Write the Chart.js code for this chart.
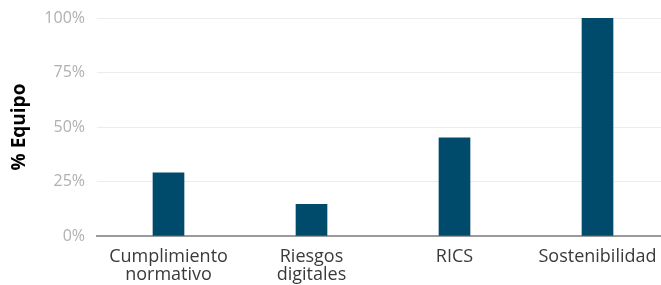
<!DOCTYPE html>
<html>
<head>
<meta charset="utf-8">
<script src="https://cdn.jsdelivr.net/npm/chart.js@4.4.1/dist/chart.umd.min.js"></script>
<style>
    html, body { margin: 0; padding: 0; background: #fff; overflow: hidden; }
    #wrap { width: 669px; height: 285px; position: relative; }
</style>
</head>
<body>
<div id="wrap"><canvas id="teamChart"></canvas></div>
<script>
const categories = [['Cumplimiento', 'normativo'], ['Riesgos', 'digitales'], 'RICS', 'Sostenibilidad'];
const teamShare = [29, 14.5, 45, 100];
const yTicks = [0, 25, 50, 75, 100];

const ctxTeam = document.getElementById('teamChart').getContext('2d');
const teamChart = new Chart(ctxTeam, {
    type: 'bar',
    data: {
        labels: categories,
        datasets: [{
            label: '% Equipo',
            data: teamShare,
            backgroundColor: '#004a6b',
            barThickness: 31
        }]
    },
    options: {
        responsive: true,
        maintainAspectRatio: false,
        animation: false,
        layout: {
            padding: { top: 0, right: 0, bottom: 0, left: 0 }
        },
        scales: {
            x: {
                grid: { display: false },
                border: { color: '#9a9a9a', width: 2 },
                ticks: {
                    color: '#3a3a3a',
                    font: { family: 'Open Sans', size: 18, lineHeight: 1.0 },
                    padding: 4,
                    maxRotation: 0
                },
                afterFit: scale => { scale.height = 49; }
            },
            y: {
                min: 0,
                max: 100,
                afterBuildTicks: scale => {
                    scale.ticks = yTicks.map(v => ({ value: v }));
                },
                grid: { color: '#ececec', drawTicks: false },
                border: { display: false },
                ticks: {
                    color: '#b0b0b0',
                    font: { family: 'Open Sans', size: 16, lineHeight: 0.75 },
                    padding: 12,
                    callback: v => v + '%'
                },
                title: {
                    display: true,
                    text: '% Equipo',
                    color: '#000',
                    font: { family: 'Open Sans', size: 19, weight: 'bold' },
                    padding: { top: 8, bottom: 0 }
                },
                afterFit: scale => { scale.width = 97; }
            }
        },
        plugins: {
            legend: { display: false },
            tooltip: { enabled: false }
        }
    }
});
</script>
</body>
</html>
